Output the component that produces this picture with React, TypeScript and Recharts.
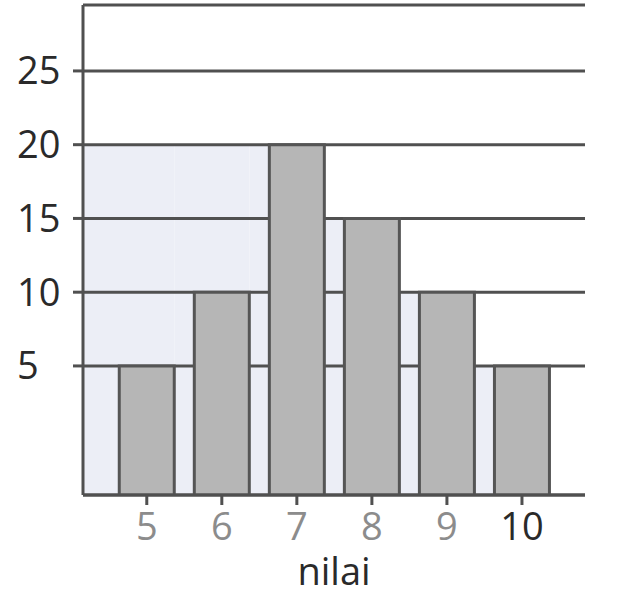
import {
  BarChart,
  Bar,
  XAxis,
  YAxis,
  CartesianGrid,
  ReferenceArea,
  Label,
} from "recharts";

// nilai (score) and how many times each occurs
const NILAI = [5, 6, 7, 8, 9, 10];
const FREKUENSI = [5, 10, 20, 15, 10, 5];
const Y_TICKS = [5, 10, 15, 20, 25];

// the scanned axis does not start at zero
const Y_MIN = -3.75;
const Y_MAX = 29.47;
const X_MIN = 4.15;
const X_MAX = 10.84;
const BAR_HALF = 0.367; // half a bar, in nilai units

const FONT = "'Open Sans', sans-serif";
const LINE = "#505050";
const DARK = "#2a2a2a";
const MUTED = "#8c8c8c";

const data = NILAI.map((n, i) => ({ nilai: n, frekuensi: FREKUENSI[i] }));

// light backdrop behind the bars: steps down from the tallest bar to the right
const shade = NILAI.map((n, i) => ({
  x1: i === 0 ? X_MIN : NILAI[i - 1] + BAR_HALF,
  x2: n + BAR_HALF,
  level: Math.max(...FREKUENSI.slice(i)),
}));

function YTick({ y, payload }: any) {
  return (
    <text x={17} y={y} dy="0.355em" textAnchor="start" fontSize={38} fontFamily={FONT} fill={DARK}>
      {payload.value}
    </text>
  );
}

function XTick({ x, y, payload }: any) {
  return (
    <text
      x={x}
      y={y}
      dy="0.71em"
      textAnchor="middle"
      fontSize={38}
      fontFamily={FONT}
      fill={payload.value === 10 ? DARK : MUTED}
    >
      {payload.value}
    </text>
  );
}

export default function App() {
  return (
    <div style={{ position: "absolute", left: 0, top: 0, background: "#fff" }}>
      <BarChart
        width={620}
        height={602}
        data={data}
        margin={{ top: 5, right: 35, bottom: 0, left: 0 }}
      >
        {shade.map((s) => (
          <ReferenceArea
            key={s.x2}
            x1={s.x1}
            x2={s.x2}
            y1={Y_MIN}
            y2={s.level}
            fill="#eceef6"
            fillOpacity={1}
            stroke="none"
            zIndex={-200}
          />
        ))}
        <CartesianGrid vertical={false} stroke={LINE} strokeWidth={3} />
        <XAxis
          type="number"
          dataKey="nilai"
          domain={[X_MIN, X_MAX]}
          ticks={NILAI}
          allowDataOverflow
          height={107}
          axisLine={{ stroke: LINE, strokeWidth: 3 }}
          tickLine={{ stroke: LINE, strokeWidth: 3 }}
          tickSize={10}
          tickMargin={8}
          tick={<XTick />}
        >
          <Label
            value="nilai"
            position="insideBottom"
            offset={17}
            fontSize={38}
            fontFamily={FONT}
            fill={DARK}
          />
        </XAxis>
        <YAxis
          type="number"
          domain={[Y_MIN, Y_MAX]}
          ticks={Y_TICKS}
          allowDataOverflow
          width={83}
          axisLine={{ stroke: LINE, strokeWidth: 3 }}
          tickLine={{ stroke: LINE, strokeWidth: 3 }}
          tickSize={10}
          tick={<YTick />}
        />
        <Bar
          dataKey={(d: any) => [Y_MIN, d.frekuensi]}
          barSize={55}
          fill="#b6b6b6"
          stroke="#555"
          strokeWidth={3}
          isAnimationActive={false}
        />
      </BarChart>
    </div>
  );
}
